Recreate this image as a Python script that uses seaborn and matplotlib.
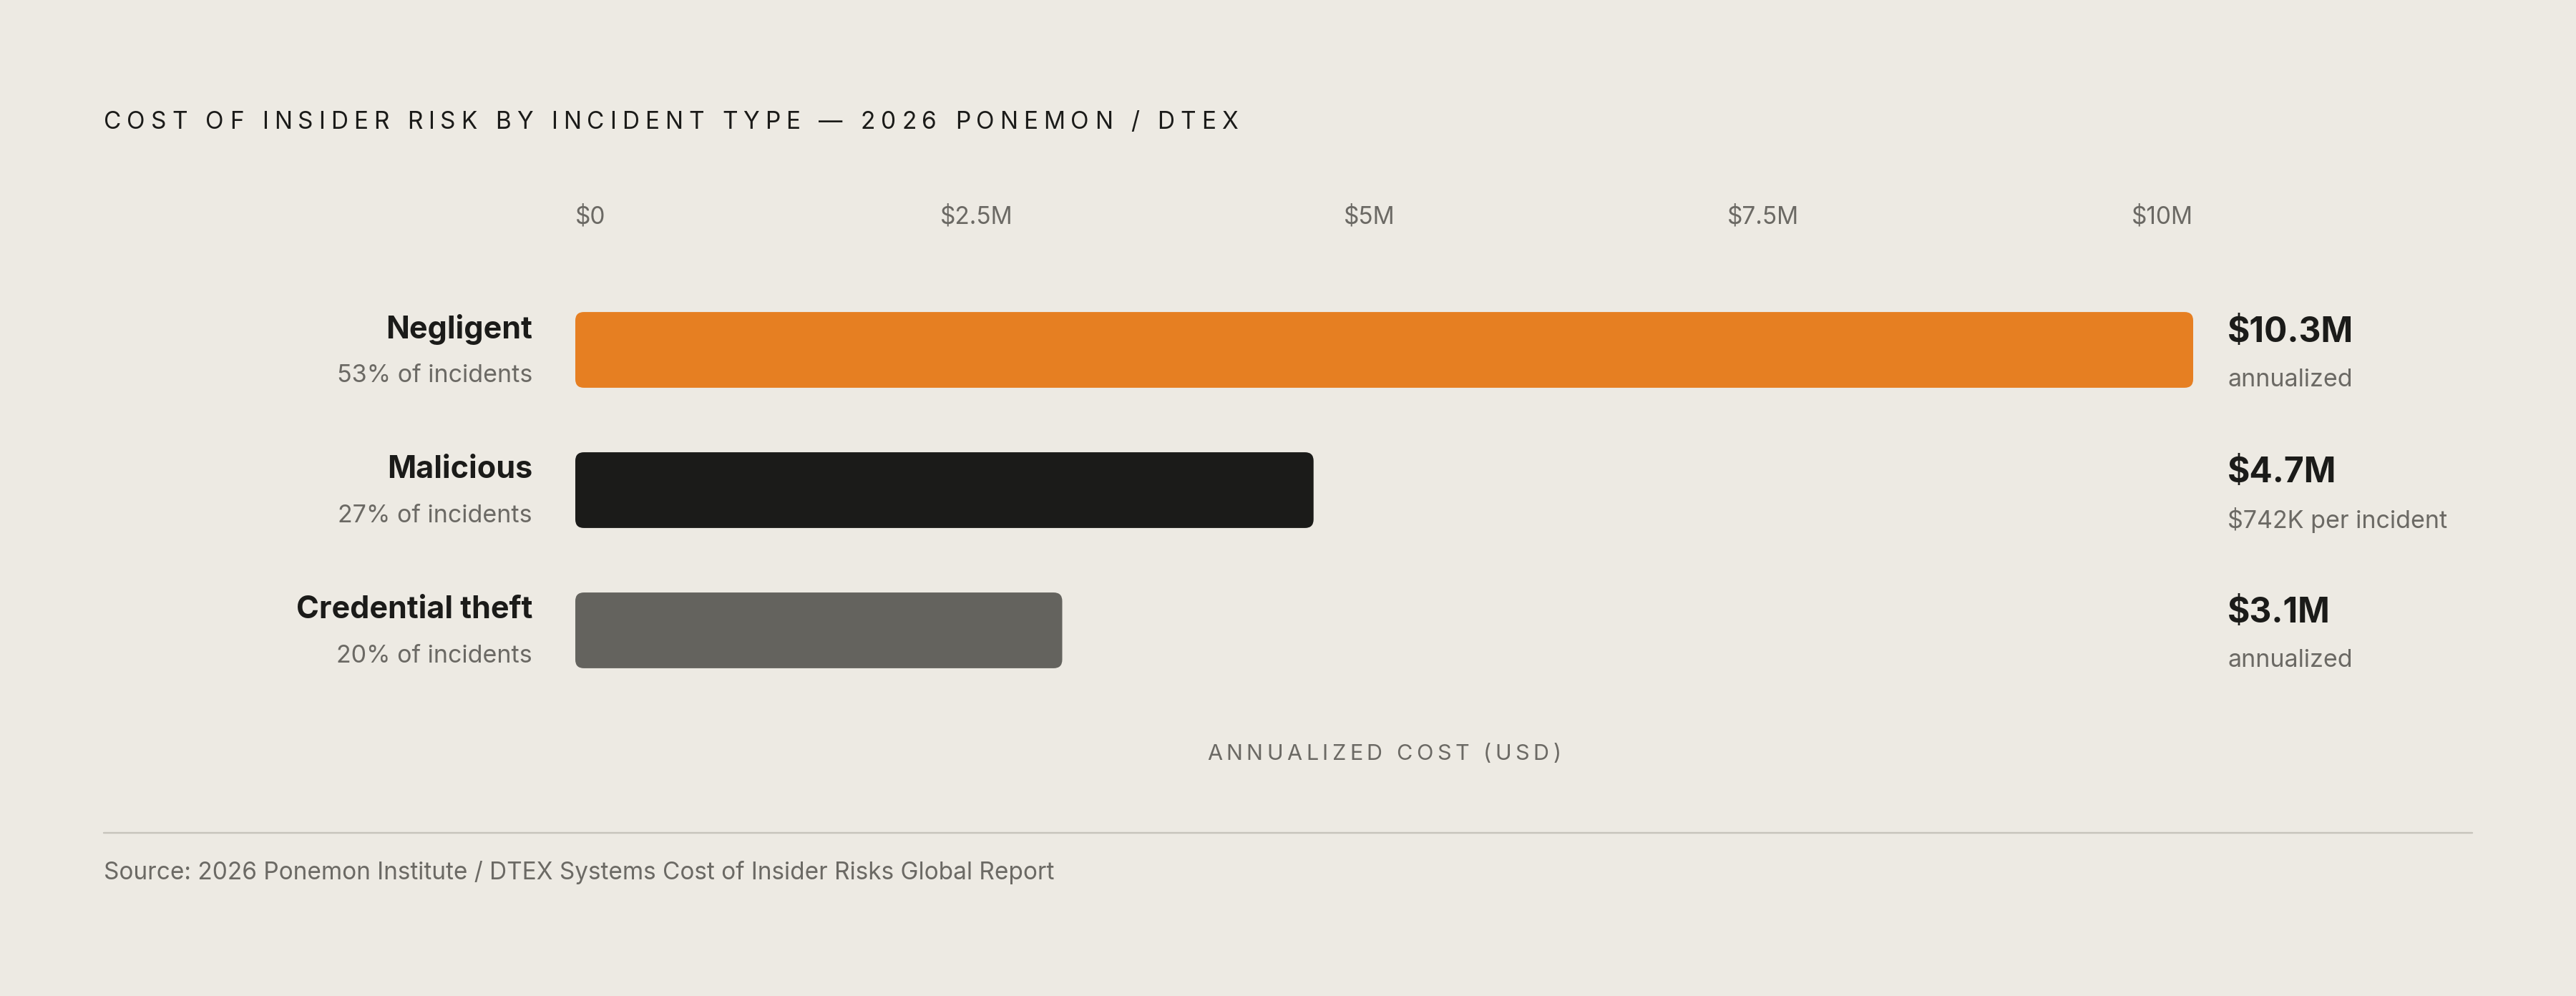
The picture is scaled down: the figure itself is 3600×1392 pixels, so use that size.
import pandas as pd
import matplotlib.pyplot as plt
import seaborn as sns
from matplotlib.patches import FancyBboxPatch
from matplotlib.lines import Line2D

# data
incident_types = ['Negligent', 'Malicious', 'Credential theft']
incident_share = ['53% of incidents', '27% of incidents', '20% of incidents']
cost_musd = [10.3, 4.7, 3.1]
cost_labels = ['$10.3M', '$4.7M', '$3.1M']
cost_notes = ['annualized', '$742K per incident', 'annualized']
tick_labels = ['$0', '$2.5M', '$5M', '$7.5M', '$10M']

title = 'COST OF INSIDER RISK BY INCIDENT TYPE — 2026 PONEMON / DTEX'
axis_title = 'ANNUALIZED COST (USD)'
source = 'Source: 2026 Ponemon Institute / DTEX Systems Cost of Insider Risks Global Report'

# colours
BG = '#edeae3'
DARK = '#1b1b19'
GREY = '#6b6964'
bar_colors = ['#e67f22', '#1b1b19', '#64635e']

sns.set_theme(style='white')
plt.rcParams['font.family'] = ['Inter', 'DejaVu Sans']

W, H = 3600, 1392
fig = plt.figure(figsize=(W / 100, H / 100), dpi=100, facecolor=BG)
renderer = fig.canvas.get_renderer()


def fx(px):
    return px / W


def fy(py):
    return 1 - py / H


def spaced_text(x, y, s, size, spacing_em, color, ha='left'):
    # matplotlib has no letter-spacing, so draw char by char
    probe = fig.text(0, 0, '|', fontsize=size)
    bar_w = probe.get_window_extent(renderer).width

    def width(sub):
        probe.set_text(sub + '|')
        return probe.get_window_extent(renderer).width - bar_w

    sp = spacing_em * size * 100 / 72
    pre = [width(s[:i]) for i in range(len(s) + 1)]
    total = pre[-1] + sp * (len(s) - 1)
    start = x - total / 2 if ha == 'center' else x
    probe.remove()
    for i, ch in enumerate(s):
        if ch == ' ':
            continue
        fig.text(fx(start + pre[i] + i * sp), fy(y), ch, fontsize=size,
                 color=color, ha='left', va='center')


# bar area
ax_top, ax_bot = 391, 979
ax = fig.add_axes([fx(804), fy(ax_bot), fx(3065) - fx(804), (ax_bot - ax_top) / H])
ax.set_facecolor(BG)

df = pd.DataFrame({'type': incident_types, 'cost': cost_musd})
sns.barplot(data=df, x='cost', y='type', hue='type', palette=bar_colors,
            saturation=1, width=0.54, legend=False, ax=ax)
ax.set_xlim(0, max(cost_musd))
ax.set_ylim(2.5, -0.5)
ax.axis('off')

# rounded corners
px_x = (3065 - 804) / max(cost_musd)
px_y = (ax_bot - ax_top) / 3
radius = 12 / px_x
for p in list(ax.patches):
    x0, y0, w, h = p.get_x(), p.get_y(), p.get_width(), p.get_height()
    fc = p.get_facecolor()
    p.remove()
    ax.add_patch(FancyBboxPatch((x0, y0), w, h,
                                boxstyle=f'round,pad=0,rounding_size={radius}',
                                mutation_aspect=px_x / px_y, fc=fc, ec='none'))

pt = 0.72
for i in range(len(incident_types)):
    ax.annotate(incident_types[i], xy=(0, i), xytext=(-60 * pt, 28 * pt),
                textcoords='offset points', ha='right', va='center',
                fontsize=31, fontweight='bold', color=DARK)
    ax.annotate(incident_share[i], xy=(0, i), xytext=(-60 * pt, -36 * pt),
                textcoords='offset points', ha='right', va='center',
                fontsize=24.5, color=GREY)
    ax.annotate(cost_labels[i], xy=(1, i), xycoords=('axes fraction', 'data'),
                xytext=(48 * pt, 24 * pt), textcoords='offset points',
                ha='left', va='center', fontsize=34.5, fontweight='bold', color=DARK)
    ax.annotate(cost_notes[i], xy=(1, i), xycoords=('axes fraction', 'data'),
                xytext=(48 * pt, -42 * pt), textcoords='offset points',
                ha='left', va='center', fontsize=24.5, color=GREY)

# tick labels spread across the top
tick_pos = [0, 0.248, 0.491, 0.734, 1.0]
tick_ha = ['left', 'center', 'center', 'center', 'right']
for lab, pos, ha in zip(tick_labels, tick_pos, tick_ha):
    ax.text(pos, 1 + 88 / (ax_bot - ax_top), lab, transform=ax.transAxes,
            ha=ha, va='center', fontsize=24, color=GREY)

spaced_text(145, 171, title, 24, 0.24, DARK)
spaced_text(1934, 1054, axis_title, 22, 0.18, GREY, ha='center')

fig.add_artist(Line2D([fx(145), fx(3455)], [fy(1164), fy(1164)],
                      transform=fig.transFigure, color='#c6c3bb', lw=1.7))
fig.text(fx(145), fy(1219), source, fontsize=24, color=GREY, ha='left', va='center')

fig.savefig('out.png', dpi=100, facecolor=BG)
